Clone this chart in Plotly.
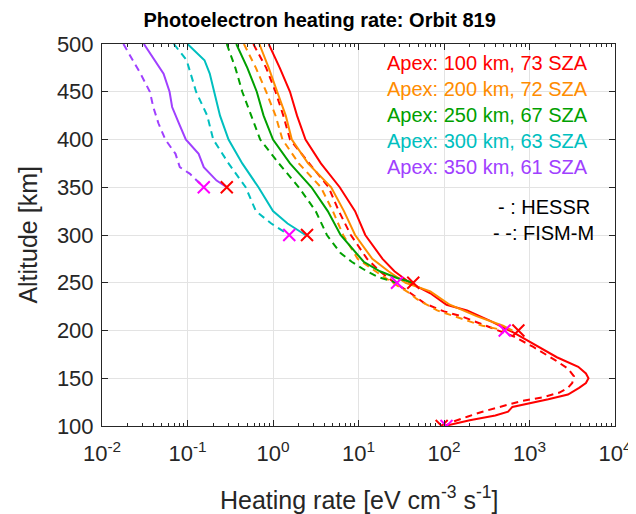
import plotly.graph_objects as go

# heating rate profiles [eV cm^-3 s^-1] vs altitude [km]
alt_100_hessr = [500, 475, 450, 425, 400, 375, 350, 325, 300, 275, 262, 250, 239, 227, 221, 210, 198, 186,
                 172, 162, 155, 150, 145, 140, 133, 128, 123, 120, 115, 111, 106, 100]
rate_100_hessr = [0.891, 1.20, 1.58, 1.91, 2.40, 3.63, 6.03, 9.12, 12.0, 19.1, 26.3, 39.8, 69.2, 107, 186, 347,
                  646, 1096, 2089, 3715, 4571, 4898, 4571, 3802, 2818, 1660, 912, 631, 562, 398, 200, 102]
alt_100_fism = [500, 475, 450, 425, 400, 375, 350, 325, 300, 275, 262, 250, 241, 228, 220, 215, 205, 194, 183,
                169, 160, 152, 145, 140, 135, 130, 126, 120, 115, 110, 105, 100]
rate_100_fism = [0.589, 0.832, 1.07, 1.32, 1.58, 2.63, 4.47, 5.89, 8.13, 12.6, 17.8, 26.3, 38.0, 60.3, 100, 158,
                 316, 646, 1096, 1995, 2818, 3311, 3162, 2818, 2239, 1413, 794, 447, 282, 191, 132, 102]

alt_200_hessr = [500, 475, 450, 425, 400, 375, 350, 325, 300, 275, 262, 250, 241, 227, 215, 205, 200]
rate_200_hessr = [0.692, 0.891, 1.12, 1.41, 1.66, 2.57, 4.79, 6.76, 9.12, 14.5, 22.4, 35.5, 69.2, 117, 240, 490, 631]
alt_200_fism = [500, 475, 450, 425, 400, 375, 350, 325, 300, 275, 262, 250, 239, 233, 221, 212, 205, 200]
rate_200_fism = [0.457, 0.631, 0.832, 1.07, 1.29, 2.0, 3.63, 5.01, 6.61, 9.77, 15.8, 25.1, 39.8, 47.9, 83.2, 170,
                 282, 513]

alt_250_hessr = [500, 475, 450, 425, 400, 375, 350, 325, 300, 272, 262, 255, 250]
rate_250_hessr = [0.372, 0.501, 0.646, 0.776, 1.0, 1.58, 2.82, 4.37, 6.17, 11.5, 17.8, 28.2, 43.7]
alt_250_fism = [500, 475, 450, 425, 400, 375, 350, 325, 300, 281, 272, 263, 256, 250]
rate_250_fism = [0.288, 0.363, 0.437, 0.562, 0.708, 1.17, 2.0, 3.16, 4.27, 6.17, 8.32, 12.0, 17.0, 28.2]

alt_300_hessr = [500, 483, 469, 450, 425, 400, 375, 350, 325, 312, 300]
rate_300_hessr = [0.100, 0.158, 0.182, 0.204, 0.240, 0.302, 0.437, 0.676, 1.0, 1.48, 2.40]
alt_300_fism = [500, 483, 450, 425, 400, 375, 350, 325, 312, 300]
rate_300_fism = [0.0692, 0.0977, 0.126, 0.170, 0.200, 0.302, 0.479, 0.631, 0.955, 1.55]

alt_350_hessr = [500, 483, 469, 450, 434, 417, 400, 385, 371, 357, 350]
rate_350_hessr = [0.0309, 0.0417, 0.0525, 0.0617, 0.0661, 0.0794, 0.0955, 0.135, 0.155, 0.219, 0.288]
alt_350_fism = [500, 469, 450, 434, 417, 400, 385, 371, 364, 350]
rate_350_fism = [0.0178, 0.0282, 0.0363, 0.0398, 0.0457, 0.0550, 0.0724, 0.0813, 0.107, 0.155]

# apex markers (bottom of each profile)
apex_alt = [100, 200, 250, 300, 350]
apex_hessr = [94, 741, 43.7, 2.5, 0.288]
apex_fism = [107, 513, 28.2, 1.55, 0.155]

labels = ['Apex: 100 km, 73 SZA', 'Apex: 200 km, 72 SZA', 'Apex: 250 km, 67 SZA',
          'Apex: 300 km, 63 SZA', 'Apex: 350 km, 61 SZA']
colors = ['#ff0000', '#ff8c00', '#00a000', '#00bfbf', '#a040ff']

cases = [
    (alt_100_hessr, rate_100_hessr, alt_100_fism, rate_100_fism),
    (alt_200_hessr, rate_200_hessr, alt_200_fism, rate_200_fism),
    (alt_250_hessr, rate_250_hessr, alt_250_fism, rate_250_fism),
    (alt_300_hessr, rate_300_hessr, alt_300_fism, rate_300_fism),
    (alt_350_hessr, rate_350_hessr, alt_350_fism, rate_350_fism),
]

FONT = 'Liberation Sans, Arial, Helvetica, sans-serif'
AX = '#262626'

fig = go.Figure()

for (ah, rh, af, rf), col in zip(cases, colors):
    fig.add_trace(go.Scatter(x=rh, y=ah, mode='lines', line=dict(color=col, width=2)))
    fig.add_trace(go.Scatter(x=rf, y=af, mode='lines', line=dict(color=col, width=2, dash='7px,5px')))

fig.add_trace(go.Scatter(x=apex_hessr, y=apex_alt, mode='markers',
                         marker=dict(symbol='x-thin', size=12, line=dict(color='#ff0000', width=2))))
fig.add_trace(go.Scatter(x=apex_fism, y=apex_alt, mode='markers',
                         marker=dict(symbol='x-thin', size=12, line=dict(color='#ff00ff', width=2))))

# legend text (coloured labels, top right) and axis titles
annotations = []
for i, (lab, col) in enumerate(zip(labels, colors)):
    annotations.append(dict(text=lab, xref='paper', yref='paper', x=0.951, y=0.951 - i * 0.0685,
                            xanchor='right', yanchor='middle', showarrow=False,
                            font=dict(family=FONT, size=20, color=col)))
annotations.append(dict(text='- : HESSR', xref='paper', yref='paper', x=0.955, y=0.574,
                        xanchor='right', yanchor='middle', showarrow=False,
                        font=dict(family=FONT, size=20, color='black')))
annotations.append(dict(text='- -: FISM-M', xref='paper', yref='paper', x=0.962, y=0.506,
                        xanchor='right', yanchor='middle', showarrow=False,
                        font=dict(family=FONT, size=20, color='black')))
annotations.append(dict(text='Heating rate [eV cm<sup>-3</sup> s<sup>-1</sup>]', xref='paper', yref='paper',
                        x=0.5, y=-0.188, xanchor='center', yanchor='middle', showarrow=False,
                        font=dict(family=FONT, size=25, color=AX)))
annotations.append(dict(text='Altitude [km]', xref='paper', yref='paper', textangle=-90,
                        x=-0.145, y=0.5, xanchor='center', yanchor='middle', showarrow=False,
                        font=dict(family=FONT, size=25, color=AX)))

decades = [0.01, 0.1, 1, 10, 100, 1000, 10000]
decade_text = ['10<sup>-2</sup>', '10<sup>-1</sup>', '10<sup>0</sup>', '10<sup>1</sup>',
               '10<sup>2</sup>', '10<sup>3</sup>', '10<sup>4</sup>']
minor_vals = [m * d for d in decades[:-1] for m in range(2, 10)]

# page body has an 8px margin, so the figure is shifted by 8px
fig.update_layout(
    width=636, height=514,
    paper_bgcolor='white', plot_bgcolor='white',
    showlegend=False,
    margin=dict(l=94, r=29, t=36, b=96),
    title=dict(text='<b>Photoelectron heating rate: Orbit 819</b>', x=0.49, xanchor='center',
               y=0.977, yanchor='middle', yref='container',
               font=dict(family=FONT, size=20, color='black')),
    xaxis=dict(type='log', range=[-2, 4], tickmode='array', tickvals=decades, ticktext=decade_text,
               ticks='inside', ticklen=6, tickcolor=AX, showline=True, linecolor=AX, linewidth=1,
               mirror='allticks', showgrid=True, gridcolor='#e3e3e3', zeroline=False,
               ticklabelstandoff=8,
               tickfont=dict(family=FONT, size=22, color=AX),
               minor=dict(tickmode='array', tickvals=minor_vals, ticks='inside', ticklen=3,
                          tickcolor=AX, showgrid=False)),
    yaxis=dict(range=[100, 500], tickmode='array', tickvals=list(range(100, 501, 50)),
               ticks='inside', ticklen=6, tickcolor=AX, showline=True, linecolor=AX, linewidth=1,
               mirror='allticks', showgrid=True, gridcolor='#e3e3e3', zeroline=False,
               ticklabelstandoff=3,
               tickfont=dict(family=FONT, size=22, color=AX)),
    annotations=annotations,
)

fig.write_html('out.html')
